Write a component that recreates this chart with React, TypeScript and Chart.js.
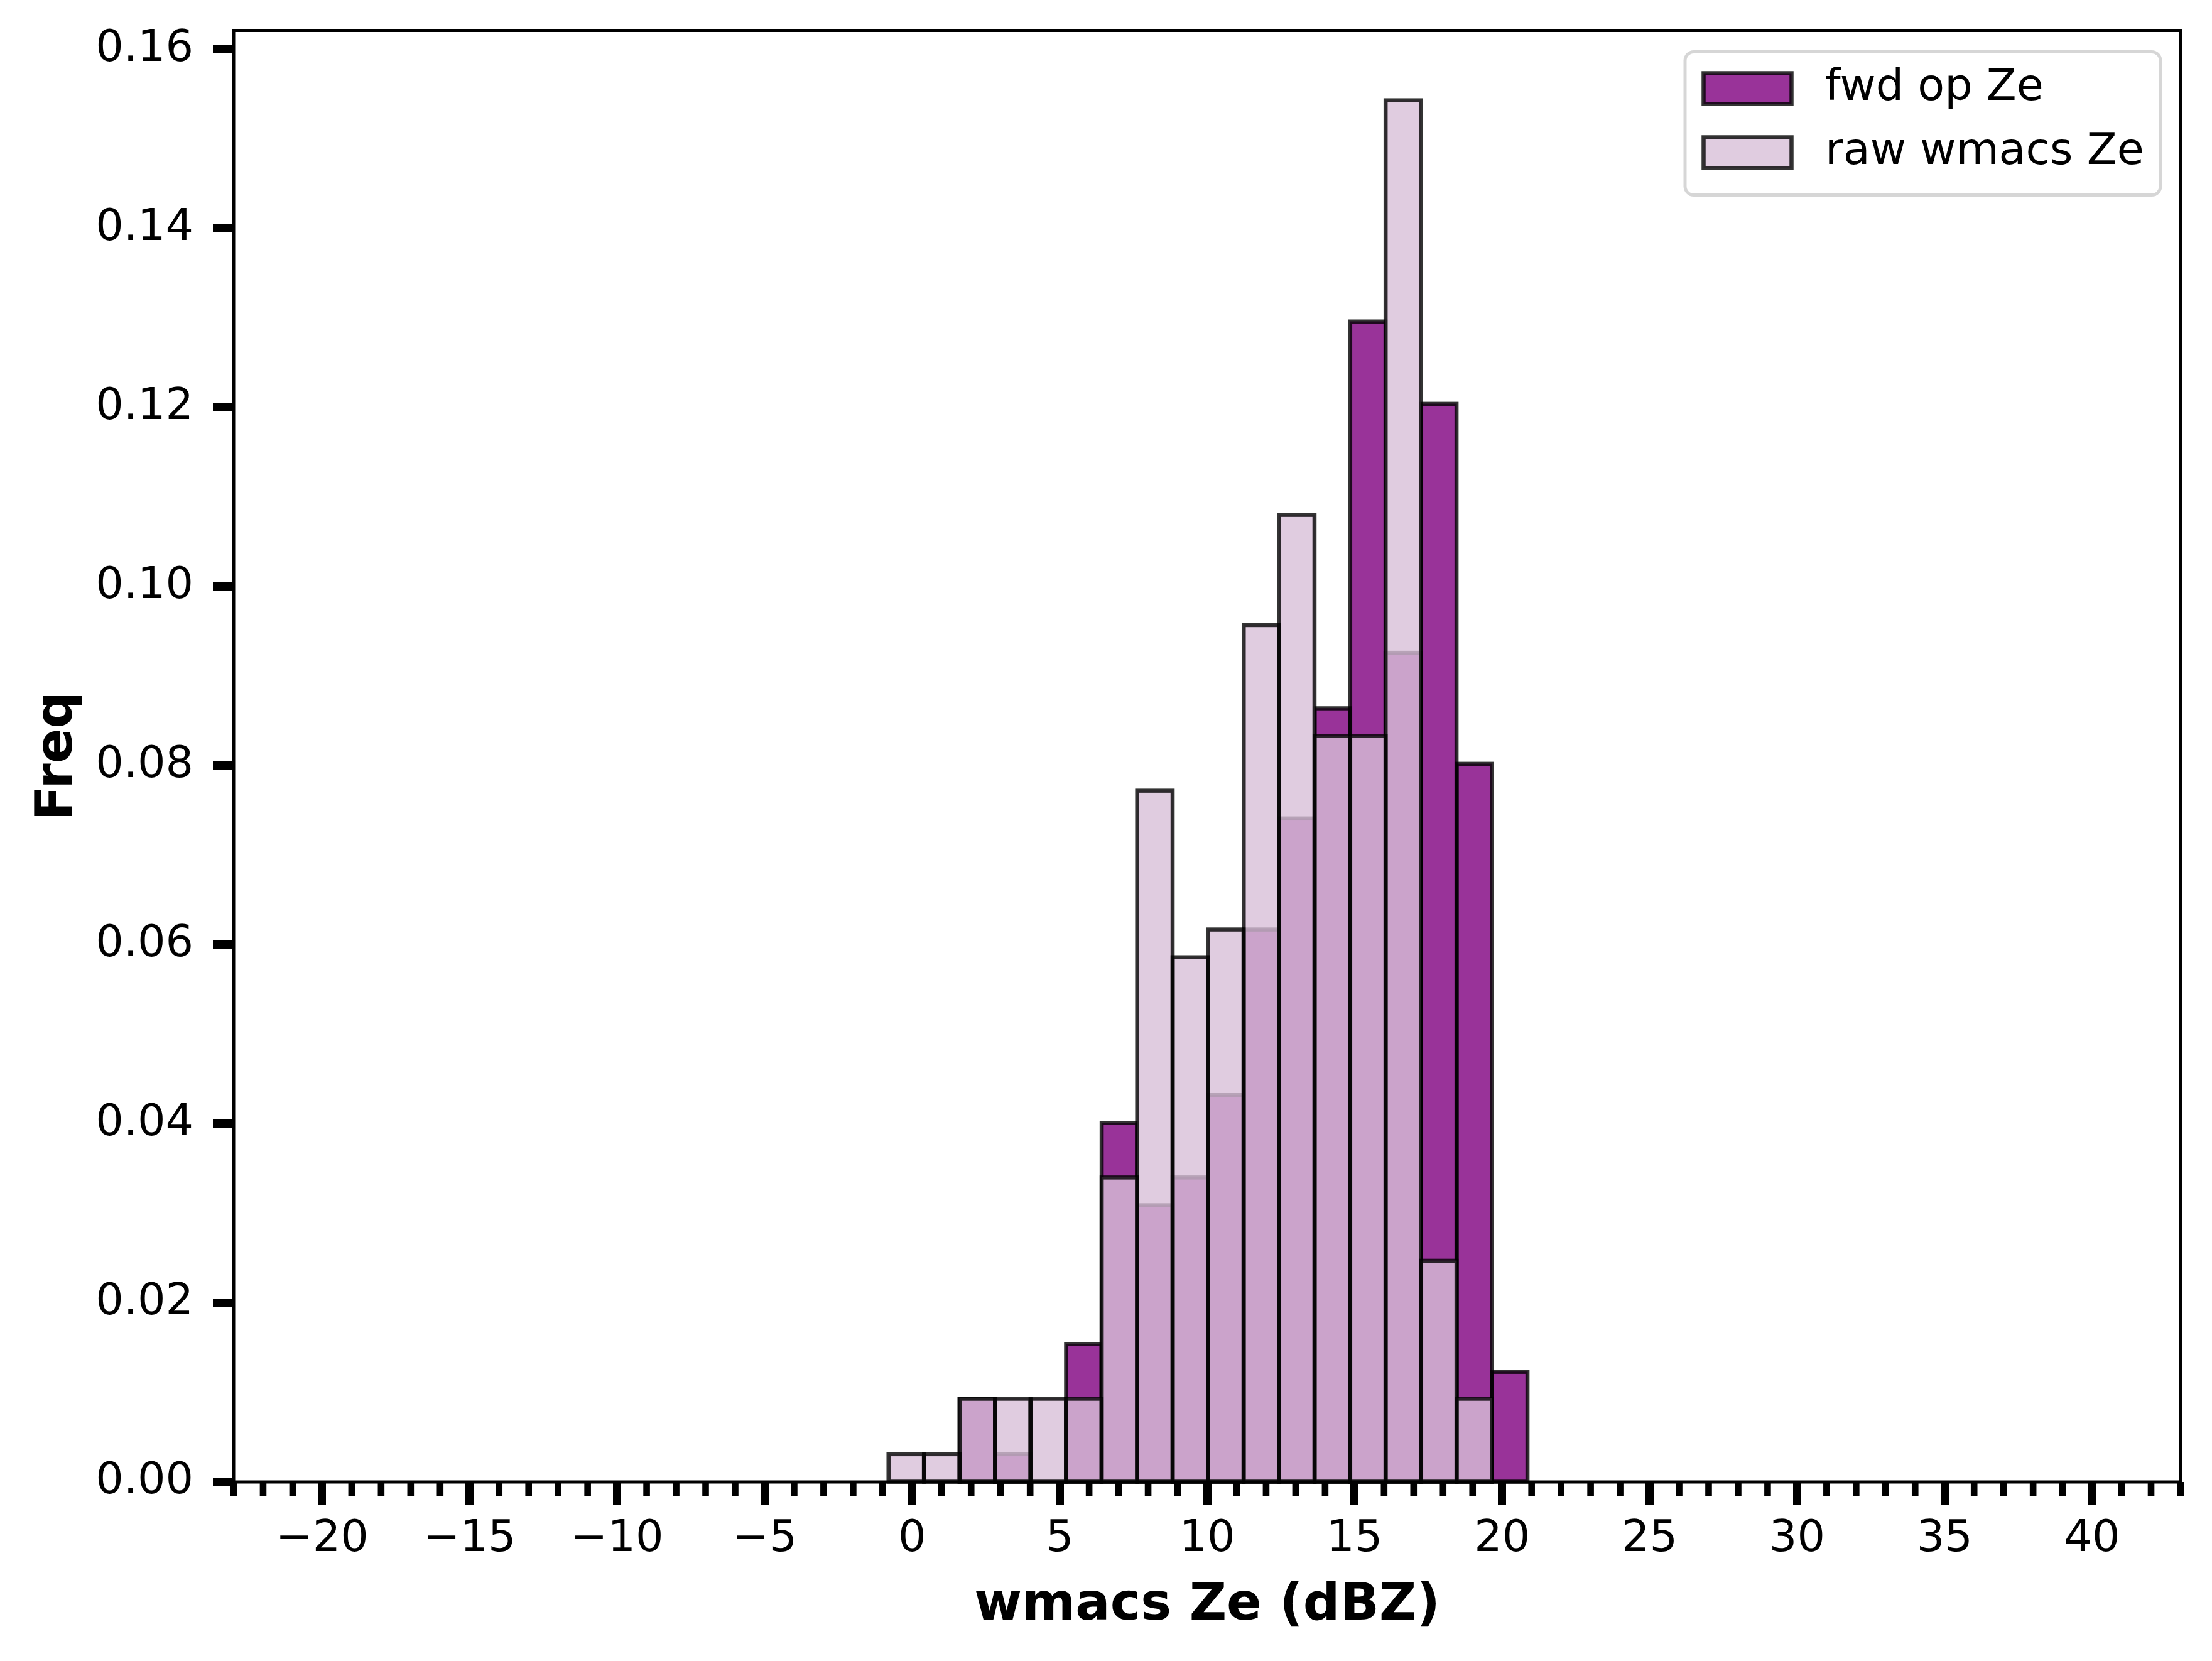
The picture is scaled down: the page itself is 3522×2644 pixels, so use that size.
import React, { useEffect, useRef } from "react";
import { Chart, registerables } from "chart.js";

Chart.register(...registerables);

// ---- data ----
const binEdges = [-0.8, 0.4, 1.61, 2.81, 4.01, 5.22, 6.42, 7.63, 8.83, 10.03, 11.24, 12.44, 13.64, 14.85, 16.05, 17.25, 18.46, 19.66, 20.86];
const fwdOpZe = [0, 0, 0.0093, 0.0031, 0, 0.0154, 0.0401, 0.0309, 0.034, 0.0432, 0.0617, 0.0741, 0.0864, 0.1296, 0.0926, 0.1204, 0.0802, 0.0123];
const rawWmacsZe = [0.0031, 0.0031, 0.0093, 0.0093, 0.0093, 0.0093, 0.034, 0.0772, 0.0586, 0.0617, 0.0957, 0.108, 0.0833, 0.0833, 0.1543, 0.0247, 0.0093, 0];
const seriesLabels = ["fwd op Ze", "raw wmacs Ze"];
const xTitle = "wmacs Ze (dBZ)";
const yTitle = "Freq";
const xMin = -23;
const xMax = 43;
const xMajorStep = 5;
const xMinorStep = 1;
const yMin = 0;
const yMax = 0.1621;
const yStep = 0.02;

const FONT = "DejaVu Sans";
const W = 3522;
const H = 2644;

const toPoints = (vals: number[]) =>
  vals.map((v, i) => ({ x: (binEdges[i] + binEdges[i + 1]) / 2, y: v }));

const fmtX = (v: number) => (v < 0 ? "\u2212" + Math.abs(v) : String(v));

const edgePlugin = {
  id: "histEdges",
  afterDatasetDraw(chart: any, args: any) {
    const ctx = chart.ctx;
    ctx.save();
    ctx.strokeStyle = "rgba(0,0,0,0.8)";
    ctx.lineWidth = 6.5;
    ctx.lineJoin = "miter";
    args.meta.data.forEach((bar: any) => {
      const p = bar.getProps(["x", "y", "base", "width"], true);
      if (Math.abs(p.base - p.y) < 0.5) return;
      ctx.strokeRect(p.x - p.width / 2, p.y, p.width, p.base - p.y);
    });
    ctx.restore();
  },
};

const framePlugin = {
  id: "frameAndMinor",
  afterDatasetsDraw(chart: any) {
    const ctx = chart.ctx;
    const a = chart.chartArea;
    ctx.save();
    // minor ticks on x
    const xs = chart.scales.x;
    ctx.fillStyle = "#000";
    for (let v = xMin; v <= xMax + 1e-9; v += xMinorStep) {
      if (Math.round(v) % xMajorStep === 0) continue;
      const px = xs.getPixelForValue(v);
      ctx.fillRect(px - 5.3, a.bottom, 10.6, 22);
    }
    // spines
    ctx.strokeStyle = "#000";
    ctx.lineWidth = 5;
    ctx.strokeRect(a.left, a.top, a.right - a.left, a.bottom - a.top);
    ctx.restore();
  },
};

const legendPlugin = {
  id: "innerLegend",
  afterDraw(chart: any) {
    const ctx = chart.ctx;
    const a = chart.chartArea;
    const bx = a.right - 789;
    const by = a.top + 34;
    const bw = 757;
    const bh = 228;
    const r = 14;
    ctx.save();
    ctx.beginPath();
    ctx.moveTo(bx + r, by);
    ctx.lineTo(bx + bw - r, by);
    ctx.arcTo(bx + bw, by, bx + bw, by + r, r);
    ctx.lineTo(bx + bw, by + bh - r);
    ctx.arcTo(bx + bw, by + bh, bx + bw - r, by + bh, r);
    ctx.lineTo(bx + r, by + bh);
    ctx.arcTo(bx, by + bh, bx, by + bh - r, r);
    ctx.lineTo(bx, by + r);
    ctx.arcTo(bx, by, bx + r, by, r);
    ctx.closePath();
    ctx.fillStyle = "rgba(255,255,255,0.8)";
    ctx.fill();
    ctx.strokeStyle = "rgba(204,204,204,0.8)";
    ctx.lineWidth = 5;
    ctx.stroke();

    const items = chart.data.datasets.slice().sort((p: any, q: any) => p.legendIndex - q.legendIndex);
    items.forEach((ds: any, i: number) => {
      const cy = by + 58.5 + i * 102;
      const sx = bx + 29.5;
      ctx.fillStyle = ds.backgroundColor;
      ctx.fillRect(sx, cy - 24.5, 140, 49);
      ctx.strokeStyle = "rgba(0,0,0,0.8)";
      ctx.lineWidth = 6.5;
      ctx.strokeRect(sx, cy - 24.5, 140, 49);
      ctx.fillStyle = "#000";
      ctx.font = `70px "${FONT}"`;
      ctx.textAlign = "left";
      ctx.textBaseline = "middle";
      ctx.fillText(ds.label, bx + 223, cy);
    });
    ctx.restore();
  },
};

export default function App() {
  const canvasRef = useRef<HTMLCanvasElement | null>(null);

  useEffect(() => {
    document.body.style.margin = "0";
    const canvas = canvasRef.current;
    if (!canvas) return;
    Chart.defaults.font.family = FONT;
    const xTickFont = { family: FONT, size: 70 };
    const yTickFont = { family: FONT, size: 70, lineHeight: 0.2 };
    const titleFont = { family: FONT, size: 82, weight: "bold" as const };

    const chart = new Chart(canvas, {
      type: "bar",
      data: {
        datasets: [
          {
            label: seriesLabels[0],
            data: toPoints(fwdOpZe),
            backgroundColor: "rgba(128,0,128,0.8)",
            borderWidth: 0,
            order: 1,
            legendIndex: 0,
          } as any,
          {
            label: seriesLabels[1],
            data: toPoints(rawWmacsZe),
            backgroundColor: "rgba(216,191,216,0.8)",
            borderWidth: 0,
            order: 0,
            legendIndex: 1,
          } as any,
        ],
      },
      options: {
        responsive: false,
        animation: false,
        maintainAspectRatio: false,
        layout: { padding: { left: 0, top: 48.5, right: 50, bottom: 0 } },
        datasets: {
          bar: {
            grouped: false,
            barPercentage: 1,
            categoryPercentage: 1,
            borderSkipped: false,
          },
        } as any,
        plugins: {
          legend: { display: false },
          tooltip: { enabled: false },
        },
        scales: {
          x: {
            type: "linear",
            offset: false,
            min: xMin,
            max: xMax,
            afterFit: (s: any) => {
              s.height = H - 2359;
            },
            ticks: {
              stepSize: xMajorStep,
              includeBounds: false,
              autoSkip: false,
              maxRotation: 0,
              minRotation: 0,
              padding: 14,
              color: "#000",
              font: xTickFont,
              callback: (v: any) => fmtX(Math.round(Number(v))),
            },
            grid: {
              offset: false,
              drawOnChartArea: false,
              drawTicks: true,
              tickLength: 36,
              tickWidth: 13,
              tickColor: "#000",
            },
            border: { display: false },
            title: {
              display: true,
              text: xTitle,
              color: "#000",
              font: titleFont,
              padding: { top: 0, bottom: 38 },
            },
          },
          y: {
            type: "linear",
            min: yMin,
            max: yMax,
            afterFit: (s: any) => {
              s.width = 372;
            },
            ticks: {
              stepSize: yStep,
              includeBounds: false,
              padding: 31,
              color: "#000",
              font: yTickFont,
              callback: (v: any) => Number(v).toFixed(2),
            },
            grid: {
              drawOnChartArea: false,
              drawTicks: true,
              tickLength: 33,
              tickWidth: 13,
              tickColor: "#000",
            },
            border: { display: false },
            title: {
              display: true,
              text: yTitle,
              color: "#000",
              font: titleFont,
              padding: { top: 44, bottom: 0 },
            },
          },
        },
      } as any,
      plugins: [edgePlugin, framePlugin, legendPlugin],
    });

    return () => {
      chart.destroy();
    };
  }, []);

  return (
    <div style={{ position: "absolute", left: 0, top: 0, width: W, height: H, background: "#fff" }}>
      <canvas ref={canvasRef} width={W} height={H} style={{ width: W, height: H, display: "block" }} />
    </div>
  );
}
